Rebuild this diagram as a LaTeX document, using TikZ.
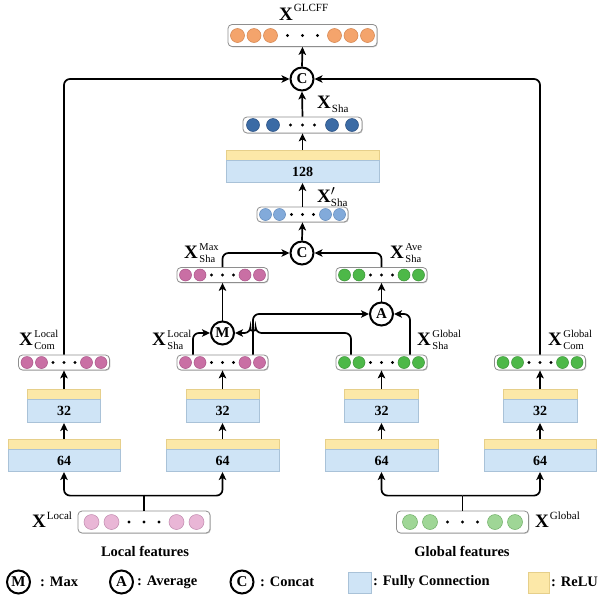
\documentclass[tikz,border=0pt]{standalone}
\usepackage{amsmath}
\usepackage{fontspec}
\setmainfont{Liberation Serif}
\usetikzlibrary{arrows.meta,calc,shadows}
\definecolor{vecgray}{HTML}{8E8E8E}
\definecolor{fcblue}{HTML}{CFE4F6}
\definecolor{fcedge}{HTML}{A9C2D8}
\definecolor{reluyel}{HTML}{FCE8A8}
\definecolor{reluedge}{HTML}{E6CF8A}
\definecolor{corange}{HTML}{F4A46C}
\definecolor{corangeE}{HTML}{D3844E}
\definecolor{cdblue}{HTML}{3B6BA5}
\definecolor{cdblueE}{HTML}{2A4F80}
\definecolor{clblue}{HTML}{82AADA}
\definecolor{clblueE}{HTML}{5E88BA}
\definecolor{cmag}{HTML}{C96FA4}
\definecolor{cmagE}{HTML}{A85286}
\definecolor{clpink}{HTML}{E9B6D6}
\definecolor{clpinkE}{HTML}{C08AAE}
\definecolor{cgreen}{HTML}{4DB848}
\definecolor{cgreenE}{HTML}{3A9236}
\definecolor{clgreen}{HTML}{9FD696}
\definecolor{clgreenE}{HTML}{6FAF66}
\tikzset{
 arr/.style={-{Stealth[length=8pt,width=7.5pt,inset=2pt]}, line width=1.7pt},
 conn/.style={line width=1.7pt},
 rc/.style={rounded corners=6pt},
 vecbox/.style={draw=vecgray, line width=0.8pt, fill=white, rounded corners=4pt, inner sep=0pt,
   drop shadow={shadow xshift=0.8pt, shadow yshift=-0.8pt, opacity=0.2, fill=black}},
 fc/.style={draw=fcedge, line width=0.6pt, fill=fcblue, inner sep=0pt, font=\bfseries\fontsize{14}{14}\selectfont},
 relu/.style={fill=reluyel, inner sep=0pt, draw=reluedge, line width=0.4pt},
 opc/.style={circle, draw, line width=2pt, fill=white, minimum size=23pt, inner sep=0pt, font=\bfseries\fontsize{15}{15}\selectfont},
 lab/.style={inner sep=0pt, font=\fontsize{19}{19}\selectfont},
 txt/.style={inner sep=0pt, font=\bfseries\fontsize{14.5}{14.5}\selectfont},
 orangec/.style={fill=corange, draw=corangeE, line width=0.5pt},
 dbluec/.style={fill=cdblue, draw=cdblueE, line width=0.5pt},
 lbluec/.style={fill=clblue, draw=clblueE, line width=0.5pt},
 magc/.style={fill=cmag, draw=cmagE, line width=0.5pt},
 lpinkc/.style={fill=clpink, draw=clpinkE, line width=0.5pt},
 greenc/.style={fill=cgreen, draw=cgreenE, line width=0.5pt},
 lgreenc/.style={fill=clgreen, draw=clgreenE, line width=0.5pt},
}
\newcommand\vecbox[8]{%
  \node[vecbox, minimum width=#3pt, minimum height=#4pt] (#1) at #2 {};
  \foreach \o in {#6} {\filldraw[#5] ($(#1.center)+(\o,0)$) circle[radius=#7pt];}
  \foreach \o in {#8} {\fill ($(#1.center)+(\o,0)$) circle[radius=1.7pt];}
}
\newcommand\layer[6]{%
  \node[relu, minimum width=#4pt, minimum height=10pt, anchor=north] (#1r) at (#2,#3) {};
  \node[fc, minimum width=#4pt, minimum height=#5pt, anchor=north] (#1) at (#1r.south) {#6};
}
\newcommand\ssz[1]{\mbox{\fontsize{11}{11}\selectfont #1}}
\newcommand\xl[2]{{\bfseries X}\kern1.5pt\raisebox{-4pt}{\fontsize{10.5}{12.5}\selectfont\begin{tabular}[b]{@{}l@{}}#1\\#2\end{tabular}}}
\newcommand\xsup[2]{{\bfseries X}\kern1pt\raisebox{#2}{\fontsize{11}{11}\selectfont #1}}
\newcommand\xsub[1]{{\bfseries X}\kern1pt\raisebox{-4pt}{\fontsize{11}{11}\selectfont #1}}
\begin{document}
\begin{tikzpicture}[x=1pt,y=-1pt]
\useasboundingbox (0,0) rectangle (599,603);
\fill[white] (0,0) rectangle (599,603);

% ---- vector boxes
\vecbox{glcff}{(302.5,35.5)}{149}{22}{orangec}{-65,-48.5,-32,32,48.5,65}{7}{-15,0,15}
\vecbox{sha}{(302.5,125)}{119}{16}{dbluec}{-49.5,-29.5,29.5,49.5}{6.5}{-12,0,12}
\vecbox{shap}{(302.5,214.5)}{91}{15}{lbluec}{-37,-23,23,37}{6}{-11,0,11}
\vecbox{max}{(222.5,275)}{91}{15}{magc}{-37,-22.5,22.5,37}{6}{-11,0,11}
\vecbox{ave}{(381.5,275)}{91}{15}{greenc}{-37,-22.5,22.5,37}{6}{-11,0,11}
\vecbox{lsha}{(222.5,362.5)}{91}{15}{magc}{-37,-22.5,22.5,37}{6}{-11,0,11}
\vecbox{gsha}{(381.5,362.5)}{91}{15}{greenc}{-37,-22.5,22.5,37}{6}{-11,0,11}
\vecbox{lcom}{(64,362.5)}{91}{15}{magc}{-37,-22.5,22.5,37}{6}{-11,0,11}
\vecbox{gcom}{(540,362.5)}{91}{15}{greenc}{-37,-22.5,22.5,37}{6}{-11,0,11}
\vecbox{xloc}{(144,522)}{132}{22}{lpinkc}{-52.5,-32.5,32.5,52.5}{7.5}{-15,0,15}
\vecbox{xglo}{(462.5,522)}{132}{22}{lgreenc}{-52.5,-32.5,32.5,52.5}{7.5}{-15,0,15}

% ---- layers
\layer{lmid}{302.5}{150}{153}{22}{128}
\layer{lcomA}{64}{389}{73}{23}{32}
\layer{lshaA}{222.5}{389}{73}{23}{32}
\layer{gshaA}{381.5}{389}{74}{23}{32}
\layer{gcomA}{540}{389}{74}{23}{32}
\layer{lcomB}{64}{439}{112}{22}{64}
\layer{lshaB}{222.5}{439}{113}{22}{64}
\layer{gshaB}{381.5}{439}{113}{22}{64}
\layer{gcomB}{540}{439}{112}{22}{64}

% ---- operators
\node[opc] (ctop) at (302,79) {C};
\node[opc] (cmid) at (302,253) {C};
\node[opc] (M) at (222.5,333) {M};
\node[opc] (A) at (381.5,314) {A};

% ---- labels
\node[lab, anchor=base west] (tglcff) at (279,20) {\xsup{GLCFF}{8.5pt}};
\node[lab, anchor=base west] (tsha) at (317,108) {\xsub{Sha}};
\node[lab, anchor=base west] (tshap) at (317,202) {$\textbf{X}'_{\ssz{Sha}}$};
\node[lab, anchor=base west] (tmax) at (184,258.5) {\xl{Max}{Sha}};
\node[lab, anchor=base west] (tave) at (390,258.5) {\xl{Ave}{Sha}};
\node[lab, anchor=base west] (tlsha) at (152,345.5) {\xl{Local}{Sha}};
\node[lab, anchor=base west] (tgsha) at (417,345.5) {\xl{Global}{Sha}};
\node[lab, anchor=base west] (tlcom) at (19,345.5) {\xl{Local}{Com}};
\node[lab, anchor=base west] (tgcom) at (548,345.5) {\xl{Global}{Com}};
\node[lab, anchor=base west] (tloc) at (32,527) {\xsup{Local}{7.5pt}};
\node[lab, anchor=base west] (tglo) at (535,527) {\xsup{Global}{7.5pt}};
\node[txt] (flocal) at (145,551) {Local features};
\node[txt] (fglobal) at (462,551) {Global features};

% ---- connectors (top part)
\draw[arr] (ctop.north) -- (glcff.south);
\draw[arr] (sha.north) -- (ctop.south);
\draw[arr] (lmidr.north) -- (sha.south);
\draw[arr] (shap.north) -- (lmid.south);
\draw[arr] (cmid.north) -- (shap.south);
\draw[arr, rc] (max.north) |- (cmid.west);
\draw[arr, rc] (ave.north) |- (cmid.east);
\draw[arr] (M.north) -- (max.south);
\draw[arr] (A.north) -- (ave.south);
\draw[arr, rc] (lcom.north) |- (ctop.west);
\draw[arr, rc] (gcom.north) |- (ctop.east);

% ---- Sha to M / A
\coordinate (ls1) at ($(lsha.north)+(-29.5,0)$);
\coordinate (ls2) at ($(lsha.north)+(30.5,0)$);
\coordinate (gs1) at ($(gsha.north)+(-30.5,0)$);
\coordinate (gs2) at ($(gsha.north)+(28.5,0)$);
\coordinate (hopR) at ($(ls2|-M.east)+(2.6,0)$);
\draw[arr, rc] (ls1) |- (M.west);
\draw[arr, rc] (ls2) |- (A.west);
\draw[arr, rc] (gs2) |- (A.east);
\draw[arr, rc] (gs1) |- (hopR) arc[start angle=0, end angle=180, radius=2.6pt] -- (M.east);

% ---- layer stacks
\foreach \n in {lcom,lsha,gsha,gcom}{
  \draw[arr] (\n Ar.north) -- (\n.south);
  \draw[arr] (\n Br.north) -- (\n A.south);
}

% ---- inputs
\coordinate (lj) at ($(xloc.north)+(0,-15)$);
\coordinate (gj) at ($(xglo.north)+(0,-15)$);
\draw[conn] (xloc.north) -- (lj);
\draw[arr, rc] (lj) -| (lcomB.south);
\draw[arr, rc] (lj) -| (lshaB.south);
\draw[conn] (xglo.north) -- (gj);
\draw[arr, rc] (gj) -| (gshaB.south);
\draw[arr, rc] (gj) -| (gcomB.south);

% ---- legend
\node[opc] (legM) at (18.5,582) {M};
\node[txt, anchor=west] (legMt) at (40,582) {: Max};
\node[opc] (legA) at (121.5,582) {A};
\node[txt, anchor=west] (legAt) at (137,582) {: Average};
\node[opc] (legC) at (242,582) {C};
\node[txt, anchor=west] (legCt) at (260,582) {: Concat};
\node[fc, minimum width=23pt, minimum height=21pt] (legfc) at (359.5,582.5) {};
\node[txt, anchor=west] (legfct) at (373,582) {: Fully Connection};
\node[relu, minimum width=21pt, minimum height=21pt] (legrelu) at (538.5,582.5) {};
\node[txt, anchor=west] (legrelut) at (551,582) {: ReLU};
\end{tikzpicture}
\end{document}
